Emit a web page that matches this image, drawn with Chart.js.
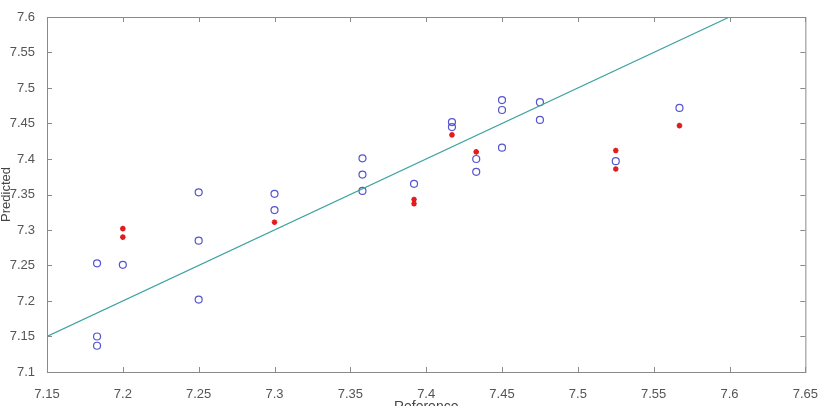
<!DOCTYPE html>
<html>
<head>
<meta charset="utf-8">
<script src="https://cdn.jsdelivr.net/npm/chart.js@4"></script>
<style>
  body { margin: 0; background: #fff; }
</style>
</head>
<body>
<canvas id="grafico" width="825" height="406"></canvas>
<script>
// Datos (Reference vs Predicted)
const refCirculos = [7.183, 7.183, 7.183, 7.2, 7.25, 7.25, 7.25, 7.3, 7.3,
    7.358, 7.358, 7.358, 7.392, 7.417, 7.417, 7.433, 7.433,
    7.45, 7.45, 7.45, 7.475, 7.475, 7.525, 7.567];
const predCirculos = [7.253, 7.15, 7.137, 7.251, 7.353, 7.285, 7.202, 7.351, 7.328,
    7.401, 7.378, 7.355, 7.365, 7.452, 7.445, 7.400, 7.382,
    7.483, 7.469, 7.416, 7.480, 7.455, 7.397, 7.472];

const refAsteriscos = [7.2, 7.2, 7.3, 7.392, 7.392, 7.417, 7.433, 7.525, 7.525, 7.567];
const predAsteriscos = [7.302, 7.290, 7.311, 7.343, 7.337, 7.434, 7.410, 7.412, 7.386, 7.447];

const refLinea = [7.15, 7.6];
const predLinea = [7.15, 7.6];

const ticksX = [7.15, 7.2, 7.25, 7.3, 7.35, 7.4, 7.45, 7.5, 7.55, 7.6, 7.65];
const ticksY = [7.1, 7.15, 7.2, 7.25, 7.3, 7.35, 7.4, 7.45, 7.5, 7.55, 7.6];

const aPuntos = (xs, ys) => xs.map((x, i) => ({x: x, y: ys[i]}));
const formato = v => String(Number(v.toFixed(2)));

// Caja estilo MATLAB con marcas hacia dentro
const cajaMatlab = {
    id: 'cajaMatlab',
    afterDraw(chart) {
        const {ctx, chartArea: a, scales} = chart;
        ctx.save();
        ctx.strokeStyle = '#8a8a8a';
        ctx.lineWidth = 1;
        ctx.strokeRect(a.left + 0.5, a.top + 0.5, a.right - a.left, a.bottom - a.top);
        const largo = 5;
        ctx.beginPath();
        ticksX.forEach(v => {
            const px = Math.round(scales.x.getPixelForValue(v)) + 0.5;
            ctx.moveTo(px, a.bottom); ctx.lineTo(px, a.bottom - largo);
            ctx.moveTo(px, a.top); ctx.lineTo(px, a.top + largo);
        });
        ticksY.forEach(v => {
            const py = Math.round(scales.y.getPixelForValue(v)) + 0.5;
            ctx.moveTo(a.left, py); ctx.lineTo(a.left + largo, py);
            ctx.moveTo(a.right, py); ctx.lineTo(a.right - largo, py);
        });
        ctx.stroke();
        ctx.restore();
    }
};

new Chart(document.getElementById('grafico'), {
    type: 'scatter',
    data: {
        datasets: [{
            label: 'Línea',
            data: aPuntos(refLinea, predLinea),
            showLine: true,
            borderColor: '#3ea3a0',
            borderWidth: 1.2,
            pointRadius: 0
        }, {
            label: 'Circulos',
            data: aPuntos(refCirculos, predCirculos),
            pointStyle: 'circle',
            pointRadius: 3.5,
            borderWidth: 1.2,
            borderColor: 'rgba(55, 55, 200, 0.85)',
            backgroundColor: 'rgba(0, 0, 0, 0)'
        }, {
            label: 'Asteriscos',
            data: aPuntos(refAsteriscos, predAsteriscos),
            pointStyle: 'star',
            pointRadius: 2.8,
            borderWidth: 1.6,
            borderColor: '#e01c1c',
            backgroundColor: '#e01c1c'
        }]
    },
    options: {
        responsive: false,
        animation: false,
        layout: { padding: { top: 17, right: 17, left: 0, bottom: 0 } },
        plugins: {
            legend: { display: false },
            tooltip: { enabled: false }
        },
        scales: {
            x: {
                type: 'linear',
                min: 7.15,
                max: 7.65,
                afterBuildTicks: s => { s.ticks = ticksX.map(v => ({value: v})); },
                afterFit: s => { s.height = 34; },
                grid: { display: false },
                border: { display: false },
                ticks: {
                    padding: 7,
                    maxRotation: 0,
                    color: '#555',
                    font: { family: 'Liberation Sans, Arial, sans-serif', size: 13 },
                    callback: v => formato(v)
                },
                title: {
                    display: true,
                    text: 'Reference',
                    color: '#444',
                    padding: { top: 0, bottom: -10 },
                    font: { family: 'Liberation Sans, Arial, sans-serif', size: 14 }
                }
            },
            y: {
                type: 'linear',
                min: 7.1,
                max: 7.6,
                afterBuildTicks: s => { s.ticks = ticksY.map(v => ({value: v})); },
                afterFit: s => { s.width = 47; },
                grid: { display: false },
                border: { display: false },
                ticks: {
                    padding: 4,
                    color: '#555',
                    font: { family: 'Liberation Sans, Arial, sans-serif', size: 13 },
                    callback: v => formato(v)
                },
                title: {
                    display: true,
                    text: 'Predicted',
                    color: '#444',
                    padding: { top: -1, bottom: 0 },
                    font: { family: 'Liberation Sans, Arial, sans-serif', size: 13 }
                }
            }
        }
    },
    plugins: [cajaMatlab]
});
</script>
</body>
</html>
